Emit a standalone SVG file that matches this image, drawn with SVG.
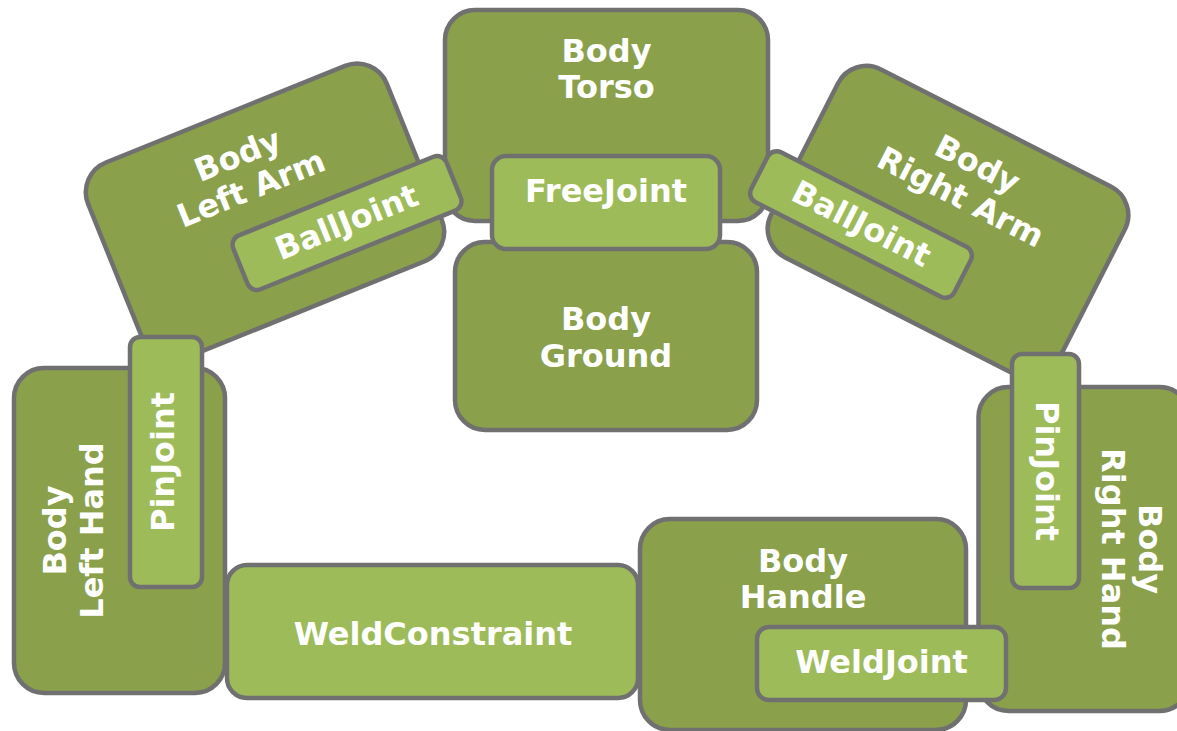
<svg xmlns="http://www.w3.org/2000/svg" width="1177" height="731" viewBox="0 0 1177 731">
<style>
.body{fill:#8aa04b;stroke:#707070;stroke-width:4.5}
.joint{fill:#9ebb5a;stroke:#707070;stroke-width:4.5}
text{font-family:"DejaVu Sans","Verdana",sans-serif;font-weight:bold;font-size:32px;fill:#ffffff;text-anchor:middle}
</style>
<rect width="1177" height="731" fill="#ffffff"/>
<g id="connectors"></g>
<g id="torso">
<rect class="body" x="445" y="10" width="323" height="211" rx="30"/>
<text x="606.5" y="62">Body</text><text x="606.5" y="98">Torso</text>
</g>
<g id="ground">
<rect class="body" x="455" y="242" width="302" height="188" rx="30"/>
<text x="606" y="330">Body</text><text x="606" y="367">Ground</text>
</g>
<g id="left-arm" transform="translate(265,212) rotate(-22)">
<rect class="body" x="-161" y="-105.5" width="322" height="211" rx="32"/>
<text x="-4" y="-52">Body</text><text x="-4" y="-16">Left Arm</text>
</g>
<g id="right-arm" transform="translate(948,222) rotate(27)">
<rect class="body" x="-161" y="-105.5" width="322" height="211" rx="32"/>
<text x="0" y="-54">Body</text><text x="0" y="-17">Right Arm</text>
</g>
<g id="left-hand" transform="translate(119.5,530.5) rotate(-90)">
<rect class="body" x="-162.5" y="-105.5" width="325" height="211" rx="30"/>
<text x="0" y="-54">Body</text><text x="0" y="-17">Left Hand</text>
</g>
<g id="right-hand" transform="translate(1084,549) rotate(90)">
<rect class="body" x="-162" y="-105.5" width="324" height="211" rx="30"/>
<text x="0" y="-55">Body</text><text x="0" y="-18">Right Hand</text>
</g>
<g id="weld-constraint">
<rect class="joint" x="227" y="565" width="411" height="133" rx="20"/>
<text x="433" y="645">WeldConstraint</text>
</g>
<g id="handle">
<rect class="body" x="640" y="519" width="326" height="211" rx="30"/>
<text x="803" y="572">Body</text><text x="803" y="608">Handle</text>
</g>
<g id="free-joint">
<rect class="joint" x="492" y="156" width="228" height="93" rx="14"/>
<text x="606" y="202">FreeJoint</text>
</g>
<g id="ball-joint-left" transform="translate(347,223) rotate(-22)">
<rect class="joint" x="-115" y="-29" width="230" height="58" rx="10"/>
<text x="0" y="10">BallJoint</text>
</g>
<g id="ball-joint-right" transform="translate(861,224.5) rotate(27)">
<rect class="joint" x="-114" y="-28" width="228" height="56" rx="10"/>
<text x="0" y="10">BallJoint</text>
</g>
<g id="pin-joint-left">
<rect class="joint" x="130" y="337" width="72" height="250" rx="10"/>
<text transform="translate(166,462) rotate(-90)" x="0" y="8">PinJoint</text>
</g>
<g id="pin-joint-right">
<rect class="joint" x="1012" y="354" width="67" height="234" rx="10"/>
<text transform="translate(1045.5,471) rotate(90)" x="0" y="10">PinJoint</text>
</g>
<g id="weld-joint">
<rect class="joint" x="757" y="627" width="249" height="73" rx="12"/>
<text x="881.5" y="673">WeldJoint</text>
</g>
</svg>
